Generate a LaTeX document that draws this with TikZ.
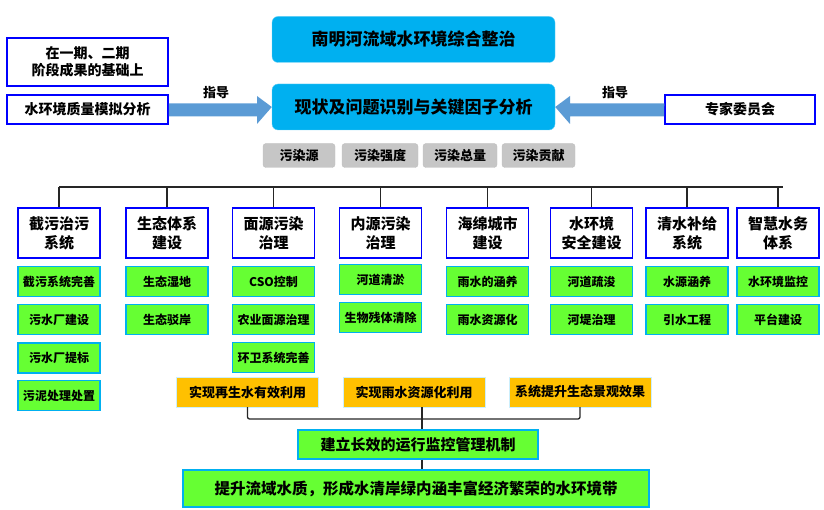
\documentclass[tikz,border=0pt]{standalone}
\usepackage{fontspec}
\setmainfont{Noto Sans CJK SC}
\usetikzlibrary{arrows.meta}
\definecolor{cyanb}{HTML}{00B0F0}
\definecolor{grn}{HTML}{66FF33}
\definecolor{org}{HTML}{FFC000}
\definecolor{arr}{HTML}{5B9BD5}
\begin{document}
\begin{tikzpicture}[x=1pt,y=-1pt,
 box/.style={minimum width=#1,inner sep=0pt,align=center,font=\bfseries},
 topb/.style={draw=cyanb!60,fill=cyanb,rounded corners=6pt,minimum width=283,minimum height=46,inner sep=0,font=\fontsize{17}{20}\selectfont\bfseries},
 blueb/.style={draw=blue,line width=1.5pt,fill=white,inner sep=0,align=center,font=\fontsize{14}{17}\selectfont\bfseries},
 tag/.style={draw=gray!50,fill=gray!45,rounded corners=3pt,minimum height=24,inner sep=0,font=\fontsize{13}{15}\selectfont\bfseries},
 cat/.style={draw=blue,line width=1.3pt,fill=white,minimum width=82,minimum height=50,inner sep=0,align=center,font=\fontsize{15}{19}\selectfont\bfseries},
 gb/.style={draw=cyanb,line width=1.3pt,fill=grn,minimum width=82,minimum height=30,inner sep=0,font=\fontsize{12}{14}\selectfont\bfseries},
 ob/.style={draw=cyanb!20,fill=org,minimum width=142,minimum height=30,inner sep=0,font=\fontsize{13}{15}\selectfont\bfseries},
 bigarrow/.style={draw=none,fill=arr},
 ln/.style={line width=1.3pt,black!85}]
\useasboundingbox (0,0) rectangle (824,510);
\node[topb] (t1) at (413.5,39.5) {南明河流域水环境综合整治};
\node[topb] (t2) at (413.5,107) {现状及问题识别与关键因子分析};
\node[blueb,minimum width=161,minimum height=48] (l1) at (87.5,62) {在一期、二期\\阶段成果的基础上};
\node[blueb,minimum width=161,minimum height=29] (l2) at (87.5,109.5) {水环境质量模拟分析};
\node[blueb,minimum width=150,minimum height=29] (r1) at (740,109.5) {专家委员会};
\fill[arr] (l2.east)++(0,-6) -- (257,103.5) -- (257,96) -- (t2.west) -- (257,124) -- (257,116.5) -- (168.8,116.5) -- cycle;
\fill[arr] (r1.west)++(0,-6) -- (570,103.5) -- (570,96) -- (t2.east) -- (570,124) -- (570,116.5) -- (664.2,116.5) -- cycle;
\node[font=\fontsize{13}{15}\selectfont\bfseries] (g1) at (216,93) {指导};
\node[font=\fontsize{13}{15}\selectfont\bfseries] (g2) at (615,93) {指导};
\node[tag,minimum width=72] (p1) at (299,155.5) {污染源};
\node[tag,minimum width=76] (p2) at (380,155.5) {污染强度};
\node[tag,minimum width=74] (p3) at (460,155.5) {污染总量};
\node[tag,minimum width=73] (p4) at (538.5,155.5) {污染贡献};
% categories
\coordinate (hl) at (59,187); \coordinate (hr) at (783,187);
\draw[ln] (hl) -- (hr);
\foreach \n/\x/\t in {c1/59/截污治污\\系统, c2/167/生态体系\\建设, c3/273.5/面源污染\\治理, c4/380.5/内源污染\\治理, c5/487.5/海绵城市\\建设, c6/591.5/水环境\\安全建设, c7/687/清水补给\\系统, c8/778/智慧水务\\体系}{
 \node[cat] (\n) at (\x,233) {\t};
 \draw[ln] (\n.north |- hl) -- (\n.north);
}
\node[gb] (a1) at (c1 |- 0,281.5) {截污系统完善};
\node[gb] (a2) at (c1 |- 0,319.5) {污水厂建设};
\node[gb] (a3) at (c1 |- 0,358) {污水厂提标};
\node[gb] (a4) at (c1 |- 0,395.5) {污泥处理处置};
\node[gb] (b1) at (c2 |- 0,281.5) {生态湿地};
\node[gb] (b2) at (c2 |- 0,319.5) {生态驳岸};
\node[gb] (d1) at (c3 |- 0,281.5) {CSO控制};
\node[gb] (d2) at (c3 |- 0,319.5) {农业面源治理};
\node[gb] (d3) at (c3 |- 0,357.5) {环卫系统完善};
\node[gb] (e1) at (c4 |- 0,279.5) {河道清淤};
\node[gb] (e2) at (c4 |- 0,317.5) {生物残体清除};
\node[gb] (f1) at (c5 |- 0,281.5) {雨水的涵养};
\node[gb] (f2) at (c5 |- 0,319.5) {雨水资源化};
\node[gb] (h1) at (c6 |- 0,281.5) {河道疏浚};
\node[gb] (h2) at (c6 |- 0,319.5) {河堤治理};
\node[gb] (i1) at (c7 |- 0,281.5) {水源涵养};
\node[gb] (i2) at (c7 |- 0,319.5) {引水工程};
\node[gb] (j1) at (c8 |- 0,281.5) {水环境监控};
\node[gb] (j2) at (c8 |- 0,319.5) {平台建设};
% outcomes
\node[ob] (o1) at (247.5,392) {实现再生水有效利用};
\node[ob] (o2) at (414,392) {实现雨水资源化利用};
\node[ob] (o3) at (580,392) {系统提升生态景观效果};
\node[draw=cyanb,line width=1.3pt,fill=grn,minimum width=240,minimum height=29,inner sep=0,font=\fontsize{15}{17}\selectfont\bfseries] (m) at (418,444.5) {建立长效的运行监控管理机制};
\node[draw=cyanb,line width=1.3pt,fill=grn,minimum width=466,minimum height=37,inner sep=0,font=\fontsize{15.5}{18}\selectfont\bfseries] (z) at (416,488.5) {提升流域水质，形成水清岸绿内涵丰富经济繁荣的水环境带};
\coordinate (bj) at (422,419);
\draw[ln,rounded corners=2pt] (o1.south) |- (bj) -| (o3.south);
\draw[ln] (o2.south -| bj) -- (m.north -| bj);
\draw[ln] (m.south -| bj) -- (z.north -| bj);
\end{tikzpicture}
\end{document}
